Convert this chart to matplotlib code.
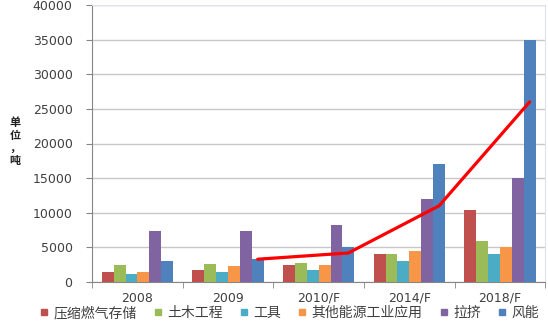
import matplotlib
matplotlib.use("Agg")
import matplotlib.pyplot as plt
import numpy as np
from matplotlib.lines import Line2D

plt.rcParams['font.family'] = ['Noto Sans CJK SC', 'DejaVu Sans']

categories = ["2008", "2009", "2010/F", "2014/F", "2018/F"]
series_names = ["压缩燃气存储", "土木工程", "工具", "其他能源工业应用", "拉挤", "风能"]
compressed_gas = [1400, 1800, 2500, 4000, 10400]
civil_eng = [2400, 2600, 2800, 4000, 6000]
tools = [1200, 1500, 1800, 3000, 4000]
other_energy = [1400, 2300, 2500, 4500, 5000]
pultrusion = [7300, 7400, 8300, 12000, 15000]
wind_power = [3100, 3300, 5000, 17000, 35000]
trend_categories = ["2009", "2010/F", "2014/F", "2018/F"]
trend_values = [3300, 4200, 11000, 26000]

colors = ["#C0504D", "#9BBB59", "#4BACC6", "#F79646", "#8064A2", "#4F81BD"]
series = [compressed_gas, civil_eng, tools, other_energy, pultrusion, wind_power]

fig = plt.figure(figsize=(5.48, 3.28), dpi=100)
ax = fig.add_axes([0.168, 0.140, 0.827, 0.845])

x = np.arange(len(categories))
w = 0.131
for i, (vals, c) in enumerate(zip(series, colors)):
    ax.bar(x + (i - 2.5) * w, vals, width=w, color=c, edgecolor="none", zorder=3)

# trend line through the wind-power bars
tx = np.array([categories.index(c) for c in trend_categories]) + 2.5 * w
ax.plot(tx, trend_values, color="#FF0000", lw=2.3, zorder=4, solid_capstyle="round")

ax.set_xlim(-0.5, len(categories) - 0.5)
ax.set_ylim(0, 40000)
ax.set_yticks(np.arange(0, 40001, 5000))
ax.set_yticklabels([str(v) for v in range(0, 40001, 5000)], family="DejaVu Sans",
                   fontsize=9, color="#404040")
ax.set_xticks(x)
ax.set_xticklabels(categories, family="DejaVu Sans", fontsize=9, color="#404040")
ax.set_xticks(np.arange(-0.5, len(categories), 1), minor=True)
ax.tick_params(axis="x", which="major", length=0, pad=7)
ax.tick_params(axis="x", which="minor", length=4, color="#868686")
ax.tick_params(axis="y", length=4, color="#868686", pad=10)

ax.grid(axis="y", color="#C8C8C8", lw=1, zorder=0)
for s in ["top", "right"]:
    ax.spines[s].set_color("#DCE3EC")
ax.spines["left"].set_color("#868686")
ax.spines["bottom"].set_color("#868686")

fig.text(0.027, 0.645, "单\n位\n，\n吨", fontsize=8, fontweight="bold",
         ha="center", va="top", linespacing=0.95, color="#202020")

handles = [Line2D([], [], marker="s", ls="none", color=c, markersize=5) for c in colors]
fig.legend(handles, series_names, loc="center", bbox_to_anchor=(0.527, 0.045), ncol=6,
           frameon=False, fontsize=10, handlelength=0.8, handletextpad=0.3,
           columnspacing=1.1, labelcolor="#404040")

fig.savefig("out.png", dpi=100)
